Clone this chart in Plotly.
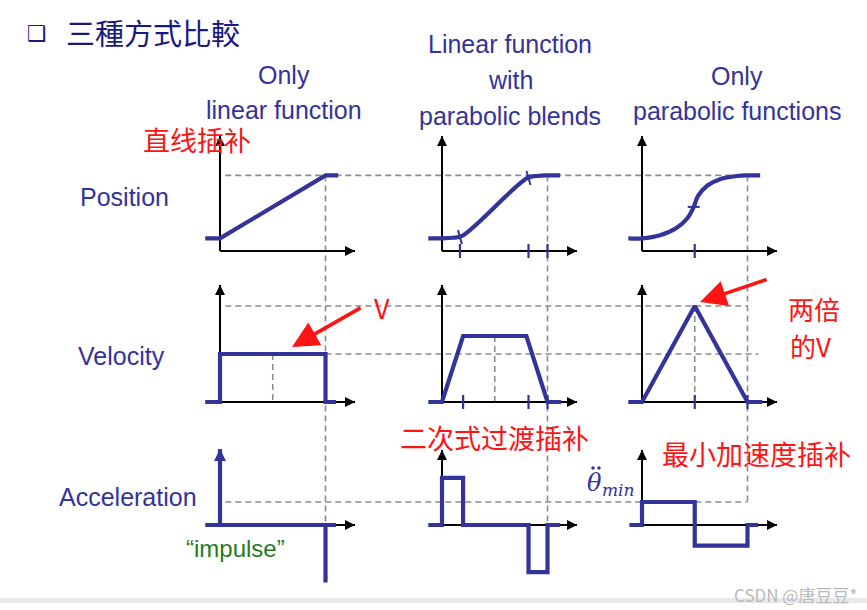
import plotly.graph_objects as go

# ---------------- data (time normalised: 0 = start, 1 = end of the move) ----------------
# Position row
T_POS_LIN = [-0.14, 0.0, 1.0, 1.12]
POS_LIN = [0.2, 0.2, 1.2, 1.2]
T_POS_BLEND = [-0.13, 0.0, 0.1, 0.19, 0.81, 0.9, 1.0, 1.12]
POS_BLEND = [0.2, 0.2, 0.21, 0.24, 1.16, 1.19, 1.2, 1.2]
T_POS_PARA = [-0.13, 0.0, 0.17, 0.33, 0.43, 0.49, 0.53, 0.62, 0.74, 0.9, 1.0, 1.12]
POS_PARA = [0.2, 0.2, 0.25, 0.37, 0.52, 0.70, 0.87, 1.04, 1.14, 1.19, 1.2, 1.2]

# Velocity row (unit = V of the linear case)
T_VEL_LIN = [-0.14, 0.0, 0.0, 1.0, 1.0, 1.1]
VEL_LIN = [0, 0, 1.0, 1.0, 0, 0]
T_VEL_BLEND = [-0.13, 0.0, 0.2, 0.8, 1.0, 1.13]
VEL_BLEND = [0, 0, 1.375, 1.375, 0, 0]
T_VEL_PARA = [-0.13, 0.0, 0.5, 1.0, 1.14]
VEL_PARA = [0, 0, 2.0, 0, 0]

# Acceleration row (unit = minimum acceleration)
T_ACC_LIN = [-0.14, 1.1]
ACC_LIN = [0, 0]
T_IMPULSE_UP = [0.0, 0.0]
ACC_IMPULSE_UP = [0, 3.3]
T_IMPULSE_DOWN = [1.0, 1.0]
ACC_IMPULSE_DOWN = [0, -2.5]
T_ACC_BLEND = [-0.13, 0.0, 0.0, 0.2, 0.2, 0.82, 0.82, 1.0, 1.0, 1.12]
ACC_BLEND = [0, 0, 2.05, 2.05, 0, 0, -2.05, -2.05, 0, 0]
T_ACC_PARA = [-0.12, 0.0, 0.0, 0.5, 0.5, 1.0, 1.0, 1.1]
ACC_PARA = [0, 0, 1.0, 1.0, -0.9, -0.9, 0, 0]

# tick marks on the time axes (blend times / mid point / end)
TICKS_BLEND = [0.17, 0.82, 1.0]
TICKS_BLEND_VEL = [0.2, 0.82, 1.0]
TICKS_PARA_POS = [0.5]
TICKS_PARA_VEL = [0.5, 1.0]

COL_TITLES = [["Only", "linear function"],
              ["Linear function", "with", "parabolic blends"],
              ["Only", "parabolic functions"]]
ROW_TITLES = ["Position", "Velocity", "Acceleration"]

# ---------------- layout of the panels (pixels on a 867x610 canvas) ----------------
COL_X0 = [220, 442, 642]
PX_T = 105.5
ROW_Y0 = [251, 402, 525]
ROW_K = [63, 48, 23]
AXIS_TOP = [136, 285, 450]
AXIS_LEN = 135

BLUE = "rgb(51,51,153)"
RED = "rgb(255,20,20)"
GRAY = "rgb(140,140,140)"
NAVY = "rgb(25,25,130)"


def X(c, ts):
    return [COL_X0[c] + PX_T * t for t in ts]


def Y(r, vs):
    return [ROW_Y0[r] - ROW_K[r] * v for v in vs]


fig = go.Figure()


def line(xs, ys, color, width, dash=None, shape="linear"):
    fig.add_trace(go.Scatter(x=xs, y=ys, mode="lines", hoverinfo="skip",
                             line=dict(color=color, width=width, dash=dash, shape=shape)))


# dashed guide lines
DASH = "6px,4px"
GUIDES_H = [(0, 1.2, (0, 0.05), (2, 0.85)),
            (1, 2.0, (0, 0.05), (2, 1.0)),
            (1, 1.0, (0, 1.0), (2, 1.1)),
            (2, 1.0, (0, 0.05), (2, 1.0))]
GUIDES_V = [(0, 1.0, (0, 1.2), (2, 0)),
            (1, 1.0, (0, 1.2), (2, 0)),
            (2, 1.0, (0, 1.2), (2, 1.0)),
            (0, 0.5, (1, 1.0), (1, 0)),
            (1, 0.5, (1, 1.375), (1, 0)),
            (2, 0.5, (1, 2.0), (1, 0))]
for r, v, (c0, t0), (c1, t1) in GUIDES_H:
    line([X(c0, [t0])[0], X(c1, [t1])[0]], Y(r, [v, v]), GRAY, 1.6, DASH)
for c, t, (r0, v0), (r1, v1) in GUIDES_V:
    line(X(c, [t, t]), [Y(r0, [v0])[0], Y(r1, [v1])[0]], GRAY, 1.6, DASH)

# black axes (lines as traces, heads as annotations)
annotations = []


def head(x, y, ax, ay, color, width, size):
    annotations.append(dict(x=x, y=y, ax=ax, ay=ay, xref="x", yref="y", axref="x", ayref="y",
                            text=" ", showarrow=True, arrowhead=2, arrowsize=size,
                            arrowwidth=width, arrowcolor=color, font=dict(size=1)))


for r in range(3):
    for c in range(3):
        x0, y0 = COL_X0[c], ROW_Y0[r]
        line([x0, x0 + AXIS_LEN], [y0, y0], "black", 2)
        head(x0 + AXIS_LEN, y0, x0 + AXIS_LEN - 6, y0, "black", 2, 1.0)
        if not (r == 2 and c == 0):
            line([x0, x0], [y0, AXIS_TOP[r]], "black", 2)
            head(x0, AXIS_TOP[r], x0, AXIS_TOP[r] + 6, "black", 2, 1.0)

# blue curves
line(X(0, T_POS_LIN), Y(0, POS_LIN), BLUE, 4.2)
line(X(1, T_POS_BLEND), Y(0, POS_BLEND), BLUE, 4.2, shape="spline")
line(X(2, T_POS_PARA), Y(0, POS_PARA), BLUE, 4.2, shape="spline")
line(X(0, T_VEL_LIN), Y(1, VEL_LIN), BLUE, 4.2)
line(X(1, T_VEL_BLEND), Y(1, VEL_BLEND), BLUE, 4.2)
line(X(2, T_VEL_PARA), Y(1, VEL_PARA), BLUE, 4.2)
line(X(0, T_ACC_LIN), Y(2, ACC_LIN), BLUE, 4.2)
line(X(0, T_IMPULSE_UP), Y(2, ACC_IMPULSE_UP), BLUE, 4.2)
head(X(0, [0])[0], Y(2, [ACC_IMPULSE_UP[1]])[0], X(0, [0])[0], Y(2, [ACC_IMPULSE_UP[1]])[0] + 6,
     BLUE, 3, 0.8)
line(X(0, T_IMPULSE_DOWN), Y(2, ACC_IMPULSE_DOWN), BLUE, 4.2)
line(X(1, T_ACC_BLEND), Y(2, ACC_BLEND), BLUE, 4.2)
line(X(2, T_ACC_PARA), Y(2, ACC_PARA), BLUE, 4.2)


# ticks on time axes
def ticks(c, r, ts):
    for t in ts:
        xx = X(c, [t])[0]
        line([xx, xx], [ROW_Y0[r] - 7, ROW_Y0[r] + 7], BLUE, 2.2)


ticks(1, 0, TICKS_BLEND)
ticks(2, 0, TICKS_PARA_POS)
ticks(1, 1, TICKS_BLEND_VEL)
ticks(2, 1, TICKS_PARA_VEL)

# small marks on the position curves at the blend points
for t, p in [(0.17, 0.22), (0.82, 1.16)]:
    xx = X(1, [t])[0]
    yy = Y(0, [p])[0]
    line([xx - 2, xx + 2], [yy - 7, yy + 7], BLUE, 2)
xx = X(2, [0.49])[0]
yy = Y(0, [0.70])[0]
line([xx - 6, xx + 6], [yy, yy], BLUE, 2)

# ---------------- text ----------------
SANS = "Liberation Sans, Arial, sans-serif"
CJK = "Noto Sans CJK SC"


def text(x, y, s, size, color, family=SANS, xanchor="center"):
    annotations.append(dict(x=x, y=y, xref="x", yref="y", text=s, showarrow=False,
                            xanchor=xanchor, yanchor="middle",
                            font=dict(size=size, color=color, family=family)))


text(37, 33, "❑", 22, NAVY, "DejaVu Sans")
text(64, 32, "三種方式比較", 29, NAVY, "Noto Sans CJK TC", xanchor="left")

HEAD_X = [284, 510, 737]
HEAD_Y = [[75, 110], [44, 80, 116], [76, 111]]
for c in range(3):
    for s, yy in zip(COL_TITLES[c], HEAD_Y[c]):
        text(HEAD_X[c], yy, s, 25, BLUE)

for s, (xx, yy) in zip(ROW_TITLES, [(124, 197), (121, 356), (128, 497)]):
    text(xx, yy, s, 25, BLUE)

text(197, 139, "直线插补", 27, RED, CJK)
text(382, 307, "V", 27, RED, CJK)
text(814, 308, "两倍", 26, RED, CJK)
text(810, 345, "的V", 26, RED, CJK)
text(494, 437, "二次式过渡插补", 27, RED, CJK)
text(756, 453, "最小加速度插补", 27, RED, CJK)
text(235, 548, "“impulse”", 24, "rgb(30,125,30)")
text(594, 483, "<i>θ</i>", 24, BLUE, "DejaVu Serif")
text(618, 490, "<i>min</i>", 17, BLUE, "DejaVu Serif")
# double-dot accent over theta
fig.add_trace(go.Scatter(x=[593, 599], y=[468, 468], mode="markers", hoverinfo="skip",
                         marker=dict(size=3.5, color=BLUE)))
text(795, 594, "CSDN @唐豆豆*", 17, "rgb(185,185,185)", CJK)

# red arrows
for (tx, ty), (hx, hy) in [((362, 307), (292, 347)), ((768, 279), (700, 302))]:
    annotations.append(dict(x=hx, y=hy, ax=tx, ay=ty, xref="x", yref="y", axref="x", ayref="y",
                            text=" ", showarrow=True, arrowhead=2, arrowsize=1.5,
                            arrowwidth=3.5, arrowcolor=RED, font=dict(size=1)))

fig.update_layout(
    width=867, height=610, margin=dict(l=0, r=0, t=0, b=0),
    paper_bgcolor="white", plot_bgcolor="white", showlegend=False,
    xaxis=dict(range=[0, 867], visible=False, fixedrange=True),
    yaxis=dict(range=[610, 0], visible=False, fixedrange=True),
    annotations=annotations,
    shapes=[dict(type="rect", xref="x", yref="y", x0=0, x1=867, y0=598, y1=603,
                 fillcolor="rgb(232,232,232)", line=dict(width=0), layer="below")],
)

fig.write_html("out.html", config={"staticPlot": True},
               post_script="document.body.style.margin='0';")
